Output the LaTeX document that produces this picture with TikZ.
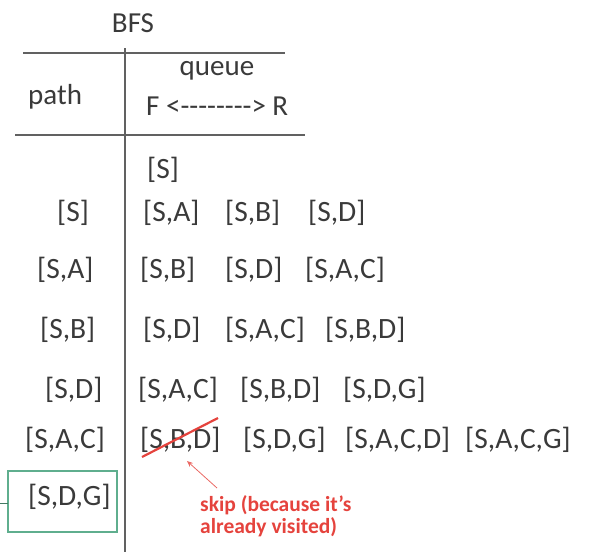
\documentclass[tikz,border=0pt]{standalone}
\usepackage{fontspec}
\setmainfont{Carlito}[Ligatures=TeXOff]
\usetikzlibrary{arrows.meta}
\definecolor{txt}{HTML}{3A3A3A}
\definecolor{redc}{HTML}{E5433D}
\definecolor{greenc}{HTML}{5FAE8E}
\begin{document}
\begin{tikzpicture}[x=1pt,y=-1pt,
  lbl/.style={anchor=west,inner sep=0pt,text=txt,font=\fontsize{29.5}{32}\selectfont},
  hdr/.style={inner sep=0pt,text=txt,font=\fontsize{29}{32}\selectfont},
  rule/.style={draw=txt!80,line width=1.6pt},
  note/.style={anchor=west,inner sep=0pt,text=redc,font=\bfseries\fontsize{21.5}{24}\selectfont}]
\useasboundingbox (0,0) rectangle (599,552);
% header
\node[hdr] (bfs) at (133,23) {BFS};
\node[hdr] (queue) at (217,71) {queue};
\node[hdr,anchor=west] (path) at (28,97) {path};
\node[hdr,anchor=west] (fr) at (146,106) {F <--------> R};
\coordinate (t1) at (23,53); \coordinate (t2) at (285,53);
\coordinate (m1) at (15,135); \coordinate (m2) at (305,135);
\coordinate (v1) at (125,48); \coordinate (v2) at (125,552);
\draw[rule] (t1) -- (t2);
\draw[rule] (m1) -- (m2);
\draw[rule] (v1) -- (v2);
% rows
\node[lbl] (q0a) at (147,170) {[S]};
\node[lbl] (p1) at (57,213) {[S]};
\node[lbl] (q1a) at (143,213) {[S,A]};
\node[lbl] (q1b) at (225,213) {[S,B]};
\node[lbl] (q1c) at (308,213) {[S,D]};
\node[lbl] (p2) at (37,270) {[S,A]};
\node[lbl] (q2a) at (140,270) {[S,B]};
\node[lbl] (q2b) at (225,270) {[S,D]};
\node[lbl] (q2c) at (305,270) {[S,A,C]};
\node[lbl] (p3) at (40,330) {[S,B]};
\node[lbl] (q3a) at (143,330) {[S,D]};
\node[lbl] (q3b) at (225,330) {[S,A,C]};
\node[lbl] (q3c) at (325,330) {[S,B,D]};
\node[lbl] (p4) at (45,390) {[S,D]};
\node[lbl] (q4a) at (138,390) {[S,A,C]};
\node[lbl] (q4b) at (240,390) {[S,B,D]};
\node[lbl] (q4c) at (343,390) {[S,D,G]};
\node[lbl] (p5) at (25,440) {[S,A,C]};
\node[lbl] (q5a) at (140,440) {[S,B,D]};
\node[lbl] (q5b) at (243,440) {[S,D,G]};
\node[lbl] (q5c) at (345,440) {[S,A,C,D]};
\node[lbl] (q5d) at (465,440) {[S,A,C,G]};
\node[lbl] (p6) at (28,497) {[S,D,G]};
% green box
\draw[greenc,line width=1.3pt] (8,471) rectangle (117,532);
\coordinate (g0) at (0,503); \coordinate (g1) at (8,503);
\draw[greenc!70!black,line width=1pt] (g0) -- (g1);
% strike-through
\coordinate (s1) at (142,457); \coordinate (s2) at (218,418);
\draw[redc,line width=2.2pt] (s1) -- (s2);
% note
\coordinate (a1) at (217,488); \coordinate (a2) at (187,461);
\draw[redc!80,line width=0.8pt,-{Stealth[length=6pt,width=5pt]}] (a1) -- (a2);
\node[note] (n1) at (200,505) {skip (because it’s};
\node[note] (n2) at (200,527) {already visited)};
\end{tikzpicture}
\end{document}
